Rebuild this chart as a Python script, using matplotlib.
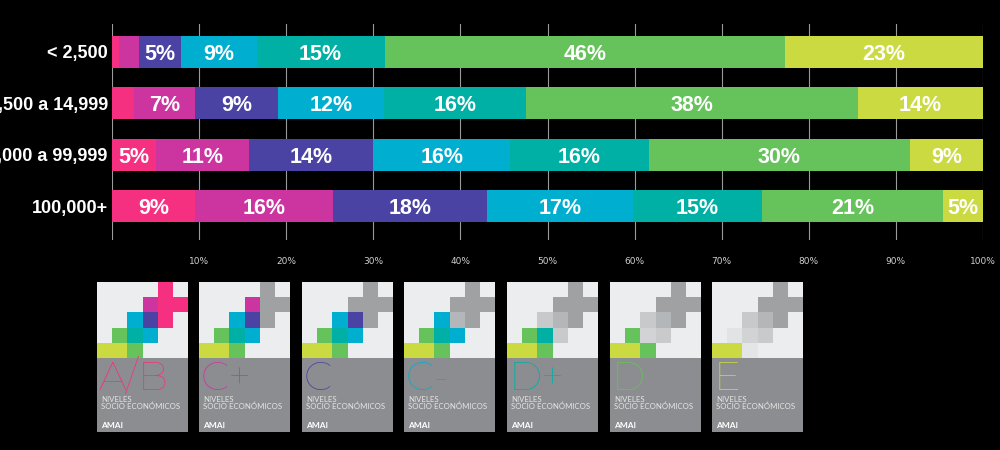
"""
Niveles socio economicos por tamano de localidad: barras apiladas y tarjetas AMAI.
"""
import matplotlib
matplotlib.use("Agg")
import matplotlib.pyplot as plt
from matplotlib.patches import Rectangle
import numpy as np

# Datos
localidades = ["< 2,500", "2,500 a 14,999", "15,000 a 99,999", "100,000+"]
nse = ["A/B", "C+", "C", "C-", "D+", "D", "E"]
ab = [0.8, 2.5, 5.0, 9.5]
c_mas = [2.3, 7.0, 10.7, 15.9]
c = [4.8, 9.6, 14.3, 17.7]
c_menos = [8.7, 12.1, 15.7, 16.7]
d_mas = [14.7, 16.3, 15.9, 14.8]
d = [46.0, 38.1, 30.0, 20.8]
e = [22.7, 14.4, 8.5, 4.6]
etiquetas = [
    ["", "", "5%", "9%", "15%", "46%", "23%"],
    ["", "7%", "9%", "12%", "16%", "38%", "14%"],
    ["5%", "11%", "14%", "16%", "16%", "30%", "9%"],
    ["9%", "16%", "18%", "17%", "15%", "21%", "5%"],
]
ticks_x = [10, 20, 30, 40, 50, 60, 70, 80, 90, 100]

colores = ["#F53080", "#CC35A0", "#4A43A3", "#00AFD0", "#00B0A5", "#66C25A", "#CADA40"]
FUENTE_NARROW = ["Liberation Sans Narrow", "Liberation Sans", "DejaVu Sans"]
W, H = 1000, 450

fig = plt.figure(figsize=(W / 100, H / 100), dpi=100, facecolor="black")

# Barras apiladas
ax = fig.add_axes([112 / W, 1 - 240 / H, 871 / W, 216 / H], facecolor="black")
series = [ab, c_mas, c, c_menos, d_mas, d, e]
y = np.arange(len(localidades))
izquierda = np.zeros(len(localidades))
for i, valores in enumerate(series):
    barras = ax.barh(y, valores, left=izquierda, height=0.62, color=colores[i], zorder=3)
    for j, barra in enumerate(barras):
        if etiquetas[j][i]:
            ax.text(barra.get_x() + barra.get_width() / 2, y[j], etiquetas[j][i], color="white",
                    ha="center", va="center_baseline", fontsize=15.5, fontweight="bold",
                    family=FUENTE_NARROW, zorder=4)
    izquierda = izquierda + np.array(valores)

ax.set_xlim(0, 100)
ax.set_ylim(3.66, -0.545)
ax.set_yticks(y)
ax.set_yticklabels(localidades, color="white", fontsize=13, fontweight="bold", family=FUENTE_NARROW)
ax.set_xticks([0] + ticks_x)
ax.set_xticklabels([""] + [f"{t}%" for t in ticks_x], color="#CFCFCF", fontsize=6.5)
ax.tick_params(axis="y", length=0, pad=3)
ax.tick_params(axis="x", length=0, pad=12)
ax.grid(axis="x", color="#9A9A9A", linewidth=0.8, zorder=1)
ax.set_axisbelow(True)
for lado in ax.spines.values():
    lado.set_visible(False)

# Tarjetas: lienzo en pixeles encima de la figura
lienzo = fig.add_axes([0, 0, 1, 1], facecolor="none")
lienzo.set_xlim(0, W)
lienzo.set_ylim(H, 0)
lienzo.axis("off")

xs_tarjeta = [97, 199, 302, 404, 507, 610, 712]
CELDA = 15.2
GRIS_CRUZ = "#A0A1A3"

# (columna, fila, ancho, indice del nivel que la colorea)
celdas = [
    (4, 0, 1, 0), (4, 1, 2, 0), (4, 2, 1, 0),
    (3, 1, 1, 1),
    (3, 2, 1, 2),
    (2, 2, 1, 3), (3, 3, 1, 3),
    (2, 3, 1, 4),
    (1, 3, 1, 5), (2, 4, 1, 5),
    (0, 4, 2, 6),
]
# Gris que toma cada celda cuando su nivel ya no esta activo
grises = {
    (4, 0): GRIS_CRUZ, (4, 1): GRIS_CRUZ, (4, 2): GRIS_CRUZ, (3, 1): GRIS_CRUZ,
    (3, 2): "#B4B7BA", (2, 2): "#C8C9CB", (3, 3): "#C8CACC",
    (2, 3): "#D2D3D5", (1, 3): "#E2E3E5", (2, 4): "#E4E5E7", (0, 4): "#CADA40",
}

for n, (x0, nombre) in enumerate(zip(xs_tarjeta, nse)):
    lienzo.add_patch(Rectangle((x0, 282), 91, 76, color="#ECEDEF", lw=0))
    lienzo.add_patch(Rectangle((x0, 358), 91, 74, color="#8C8D90", lw=0))
    for col, fila, ancho, nivel in celdas:
        color = colores[nivel] if nivel >= n else grises[(col, fila)]
        lienzo.add_patch(Rectangle((x0 + col * CELDA, 282 + fila * CELDA), ancho * CELDA, CELDA,
                                   color=color, lw=0))
    lienzo.text(x0 + 2, 390, nombre, color=colores[n], fontsize=29, fontweight="bold",
                family=["Montserrat", "Inter", "DejaVu Sans"], ha="left", va="baseline")
    lienzo.text(x0 + 4, 409, "NIVELES\nSOCIO ECONÓMICOS", color="#E6E6E6", fontsize=5.6,
                family=["Lato", "DejaVu Sans"], ha="left", va="baseline", linespacing=0.95)
    lienzo.text(x0 + 4, 428, "AMAI", color="white", fontsize=6, fontweight="bold",
                family=["Lato", "DejaVu Sans"], ha="left", va="baseline")

fig.savefig("out.png", dpi=100, facecolor="black")
